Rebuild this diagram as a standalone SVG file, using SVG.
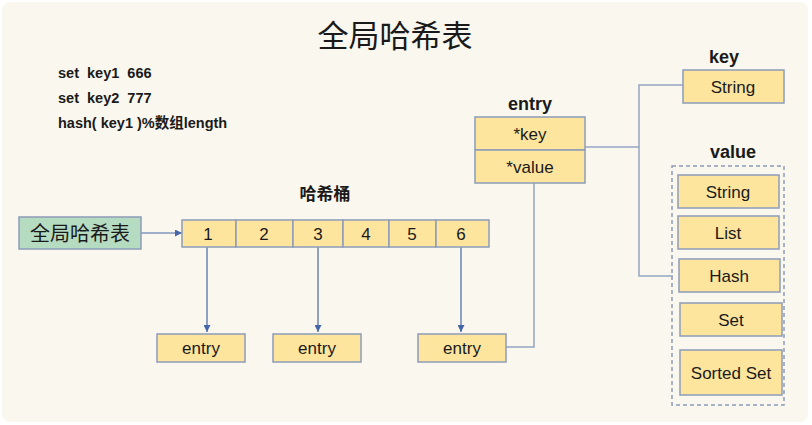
<svg xmlns="http://www.w3.org/2000/svg" width="812" height="425" viewBox="0 0 812 425">
<defs>
<marker id="arr" viewBox="0 0 10 10" refX="10" refY="5" markerWidth="7" markerHeight="7" markerUnits="userSpaceOnUse" orient="auto">
<path d="M0,0 L10,5 L0,10 z" fill="#4766a8"/>
</marker>
<style>
.bg{fill:#f9f7ee}
.box{fill:#fde59e;stroke:#8d9cb9;stroke-width:1.5}
.green{fill:#b5dbc1;stroke:#8d9cb9;stroke-width:1.5}
.t{font-family:"Liberation Sans",Arial,sans-serif;fill:#1a1a1a;text-anchor:middle}
.cjk{font-family:"Noto Sans CJK SC","Liberation Sans",sans-serif;fill:#1a1a1a}
.cmd{font-family:"Liberation Sans","Noto Sans CJK SC",sans-serif;fill:#1a1a1a;font-weight:bold;white-space:pre}
.b{font-weight:bold}
.arrow{stroke:#4766a8;stroke-width:1.2;fill:none}
.link{stroke:#94a6c4;stroke-width:1.5;fill:none}
.dash{fill:none;stroke:#8d9cb9;stroke-width:1.5;stroke-dasharray:4,3}
</style>
</defs>
<rect width="812" height="425" fill="#ffffff"/>
<rect class="bg" x="2" y="2" width="806" height="420" rx="8"/>

<text class="cjk" x="395" y="47" font-size="31" text-anchor="middle">全局哈希表</text>

<g id="commands" font-size="14.5">
<text class="cmd" x="58" y="78" xml:space="preserve">set  key1  666</text>
<text class="cmd" x="58" y="103" xml:space="preserve">set  key2  777</text>
<text class="cmd" x="58" y="128" xml:space="preserve">hash( key1 )%数组length</text>
</g>

<g id="connectors">
<line class="arrow" x1="141" y1="233" x2="182" y2="233" marker-end="url(#arr)"/>
<line class="arrow" x1="207" y1="247" x2="207" y2="332" marker-end="url(#arr)"/>
<line class="arrow" x1="318" y1="247" x2="318" y2="332" marker-end="url(#arr)"/>
<line class="arrow" x1="461" y1="247" x2="461" y2="332" marker-end="url(#arr)"/>
<polyline class="link" points="506,347 534,347 534,183"/>
<polyline class="link" points="585,147 639,147"/>
<polyline class="link" points="683,85 639,85 639,276 673,276"/>
</g>

<g id="global-table">
<rect class="green" x="19" y="217" width="122" height="32"/>
<text class="cjk" x="80" y="241" font-size="20" text-anchor="middle">全局哈希表</text>
</g>

<g id="buckets">
<text class="cjk b" x="325" y="200" font-size="17" text-anchor="middle">哈希桶</text>
<rect class="box" x="182" y="220" width="54" height="27"/>
<rect class="box" x="236" y="220" width="57" height="27"/>
<rect class="box" x="293" y="220" width="50" height="27"/>
<rect class="box" x="343" y="220" width="46" height="27"/>
<rect class="box" x="389" y="220" width="47" height="27"/>
<rect class="box" x="436" y="220" width="53" height="27"/>
<g class="t" font-size="17">
<text x="208" y="240">1</text>
<text x="264" y="240">2</text>
<text x="318" y="240">3</text>
<text x="366" y="240">4</text>
<text x="412" y="240">5</text>
<text x="461" y="240">6</text>
</g>
</g>

<g id="entry1">
<rect class="box" x="157" y="334" width="88" height="28"/>
<text class="t" x="201" y="354" font-size="17">entry</text>
</g>
<g id="entry2">
<rect class="box" x="273" y="334" width="88" height="28"/>
<text class="t" x="317" y="354" font-size="17">entry</text>
</g>
<g id="entry3">
<rect class="box" x="418" y="334" width="88" height="28"/>
<text class="t" x="462" y="354" font-size="17">entry</text>
</g>

<g id="entry-struct">
<text class="t b" x="530" y="110" font-size="18">entry</text>
<rect class="box" x="475" y="117" width="110" height="33"/>
<rect class="box" x="475" y="150" width="110" height="33"/>
<text class="t" x="530" y="140" font-size="17">*key</text>
<text class="t" x="530" y="173" font-size="17">*value</text>
</g>

<g id="key">
<text class="t b" x="724" y="63" font-size="18">key</text>
<rect class="box" x="683" y="70" width="101" height="33"/>
<text class="t" x="733" y="93" font-size="17">String</text>
</g>

<g id="value">
<text class="t b" x="733" y="158" font-size="18">value</text>
<rect class="dash" x="672" y="166" width="112" height="239"/>
<rect class="box" x="678" y="175" width="101" height="33"/>
<text class="t" x="728" y="198" font-size="17">String</text>
<rect class="box" x="678" y="216" width="101" height="33"/>
<text class="t" x="728" y="239" font-size="17">List</text>
<rect class="box" x="679" y="259" width="101" height="33"/>
<text class="t" x="729" y="282" font-size="17">Hash</text>
<rect class="box" x="680" y="303" width="102" height="33"/>
<text class="t" x="731" y="326" font-size="17">Set</text>
<rect class="box" x="680" y="350" width="102" height="45"/>
<text class="t" x="731" y="379" font-size="17">Sorted Set</text>
</g>
</svg>
